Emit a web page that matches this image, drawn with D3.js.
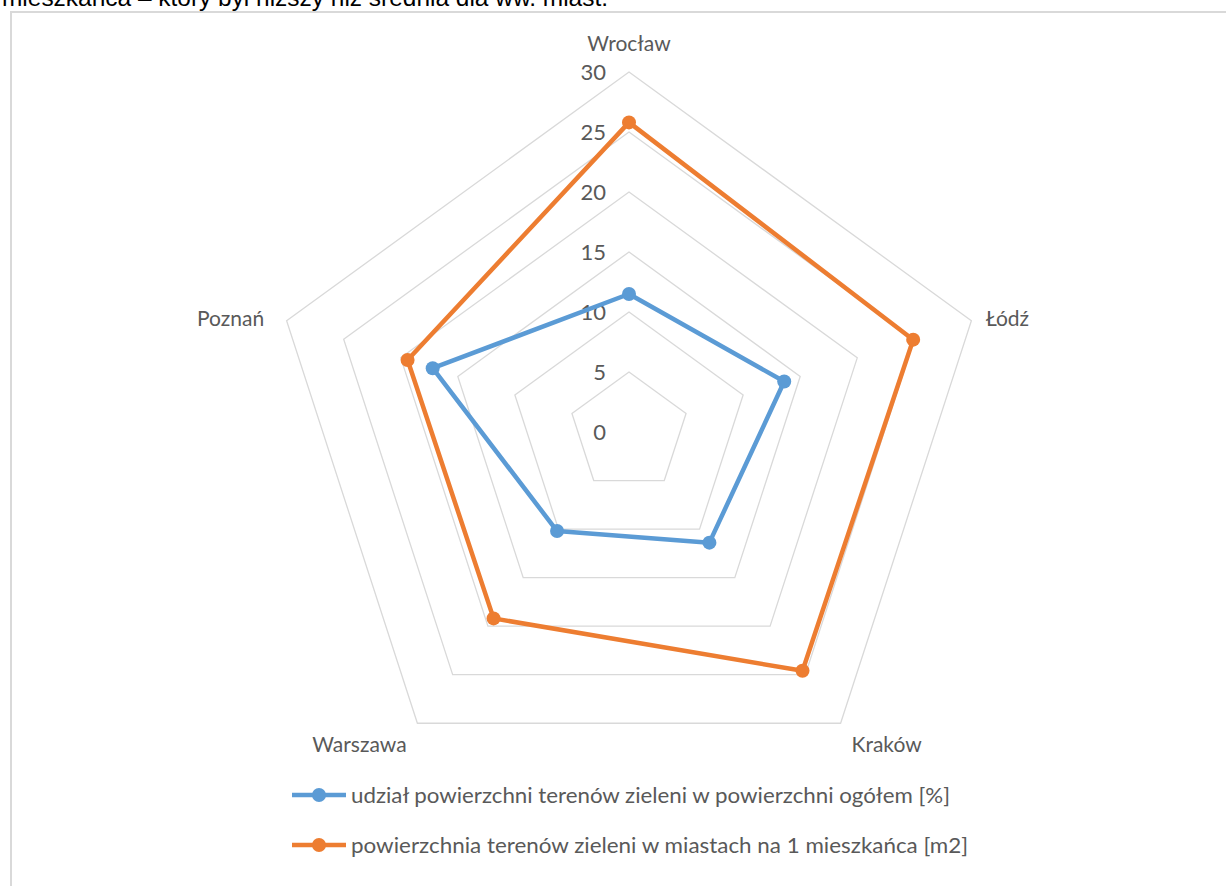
<!DOCTYPE html>
<html lang="pl">
<head>
  <meta charset="UTF-8">
  <title>radar</title>
  <script src="https://cdn.jsdelivr.net/npm/d3@7"></script>
  <style>
    body { margin: 0; background: #fff; }
    svg { display: block; }
  </style>
</head>
<body>
  <svg width="1226" height="886"></svg>
  <script>
    var cities = ['Wrocław', 'Łódź', 'Kraków', 'Warszawa', 'Poznań']
    var shareValues = [11.5, 13.6, 11.4, 10.2, 17.2]
    var perCapitaValues = [25.8, 24.9, 24.6, 19.2, 19.4]
    var ticks = [0, 5, 10, 15, 20, 25, 30]
    var seriesNames = [
      'udział powierzchni terenów zieleni w powierzchni ogółem [%]',
      'powierzchnia terenów zieleni w miastach na 1 mieszkańca [m2]'
    ]
    var colors = ['#5b9bd5', '#ed7d31']

    var svg = d3.select('svg')
    var font = 'Lato, "Noto Sans", sans-serif'

    // line of text above the chart, cut off by the top edge as in the source
    svg.append('text')
      .attr('x', 2).attr('y', 6)
      .attr('font-family', '"Liberation Sans", sans-serif')
      .attr('font-size', 23)
      .attr('fill', '#000')
      .attr('textLength', 606)
      .attr('lengthAdjust', 'spacingAndGlyphs')
      .text('mieszkańca – który był niższy niż średnia dla ww. miast.')

    svg.append('rect')
      .attr('x', 11).attr('y', 12)
      .attr('width', 1226).attr('height', 900)
      .attr('fill', '#fff')
      .attr('stroke', '#d9d9d9').attr('stroke-width', 2)

    var cx = 629, cy = 432
    var r = d3.scaleLinear().domain([0, 30]).range([0, 360])
    var angle = d3.scalePoint().domain(cities).range([0, 2 * Math.PI * 4 / 5])

    function pt(city, v) {
      var a = angle(city)
      return [Math.sin(a) * r(v), -Math.cos(a) * r(v)]
    }

    var g = svg.append('g').attr('transform', 'translate(' + cx + ',' + cy + ')')

    var ring = d3.line().curve(d3.curveLinearClosed)
    g.selectAll('.ring')
      .data(ticks.filter(function (t) { return t > 0 }))
      .enter().append('path')
      .attr('d', function (t) { return ring(cities.map(function (c) { return pt(c, t) })) })
      .attr('fill', 'none')
      .attr('stroke', '#d9d9d9')
      .attr('stroke-width', 1.3)

    g.selectAll('.tick')
      .data(ticks)
      .enter().append('text')
      .attr('x', -23)
      .attr('y', function (t) { return -r(t) + 8 })
      .attr('text-anchor', 'end')
      .attr('font-family', font)
      .attr('font-size', 22)
      .attr('fill', '#595959')
      .text(function (t) { return t })

    var labelOffsets = {
      'Wrocław': [0, -28], 'Łódź': [36, -2], 'Kraków': [46, 22],
      'Warszawa': [-58, 22], 'Poznań': [-56, -2]
    }
    g.selectAll('.cat')
      .data(cities)
      .enter().append('text')
      .attr('x', function (c) { return pt(c, 30)[0] + labelOffsets[c][0] })
      .attr('y', function (c) { return pt(c, 30)[1] + labelOffsets[c][1] + 7 })
      .attr('text-anchor', 'middle')
      .attr('font-family', font)
      .attr('font-size', 21)
      .attr('fill', '#595959')
      .text(function (c) { return c })

    var series = [shareValues, perCapitaValues]
    series.forEach(function (vals, i) {
      var pts = cities.map(function (c, k) { return pt(c, vals[k]) })
      g.append('path')
        .attr('d', ring(pts))
        .attr('fill', 'none')
        .attr('stroke', colors[i])
        .attr('stroke-width', 4.5)
        .attr('stroke-linejoin', 'round')
      g.selectAll('.m' + i)
        .data(pts)
        .enter().append('circle')
        .attr('cx', function (p) { return p[0] })
        .attr('cy', function (p) { return p[1] })
        .attr('r', 7)
        .attr('fill', colors[i])
    })

    var legend = svg.append('g')
    seriesNames.forEach(function (name, i) {
      var y = 795 + i * 50
      legend.append('line')
        .attr('x1', 292).attr('x2', 346)
        .attr('y1', y).attr('y2', y)
        .attr('stroke', colors[i]).attr('stroke-width', 4.5)
      legend.append('circle')
        .attr('cx', 319).attr('cy', y).attr('r', 7)
        .attr('fill', colors[i])
      legend.append('text')
        .attr('x', 351).attr('y', y + 8)
        .attr('font-family', font)
        .attr('font-size', 21)
        .attr('fill', '#595959')
        .attr('textLength', i === 0 ? 599 : 617)
        .attr('lengthAdjust', 'spacingAndGlyphs')
        .text(name)
    })
  </script>
</body>
</html>
